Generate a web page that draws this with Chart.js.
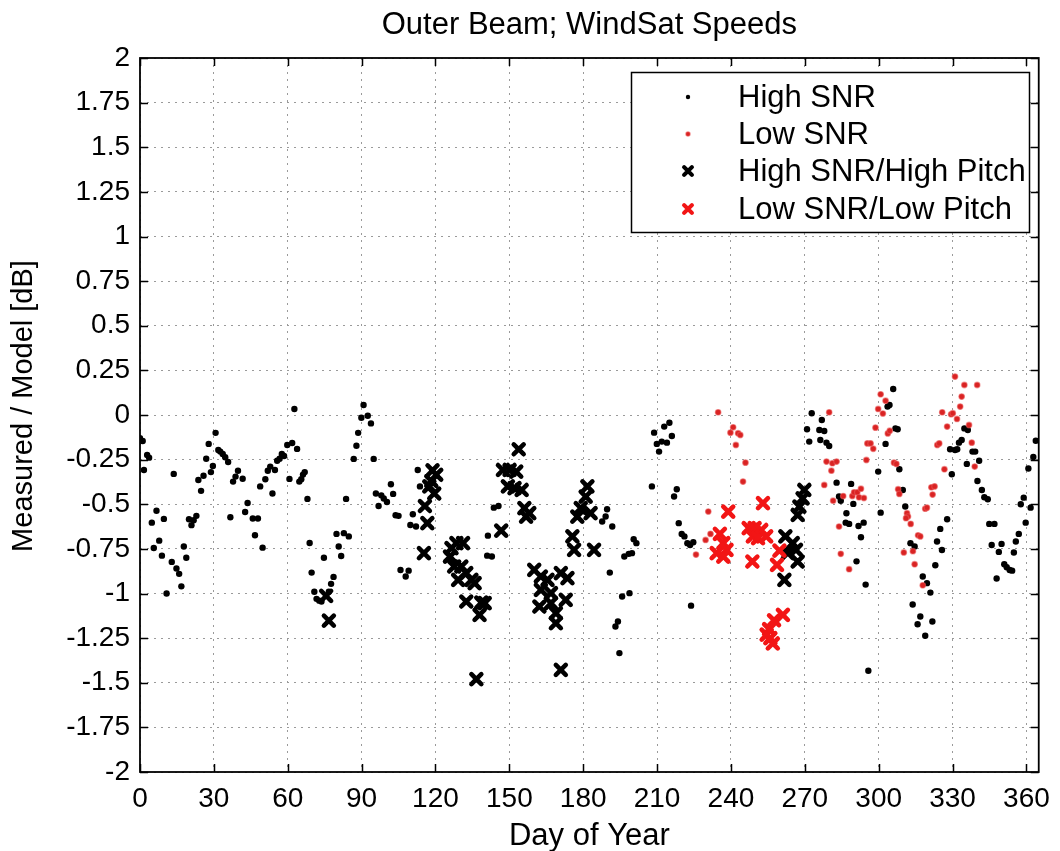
<!DOCTYPE html>
<html>
<head>
<meta charset="utf-8">
<title>Outer Beam; WindSat Speeds</title>
<script src="https://cdn.jsdelivr.net/npm/chart.js@4.4.1/dist/chart.umd.min.js"></script>
<style>
  html, body { margin: 0; padding: 0; background: #ffffff; }
  canvas { display: block; }
</style>
</head>
<body>
<canvas id="chart" width="1060" height="851"></canvas>
<script>
// Axis ticks
const xTicks = [0, 30, 60, 90, 120, 150, 180, 210, 240, 270, 300, 330, 360];
const yTicks = [2, 1.75, 1.5, 1.25, 1, 0.75, 0.5, 0.25, 0, -0.25, -0.5, -0.75, -1, -1.25, -1.5, -1.75, -2];
const yTickLabels = ['2', '1.75', '1.5', '1.25', '1', '0.75', '0.5', '0.25', '0', '-0.25', '-0.5', '-0.75', '-1', '-1.25', '-1.5', '-1.75', '-2'];

const seriesNames = ['High SNR', 'Low SNR', 'High SNR/High Pitch', 'Low SNR/Low Pitch'];

// High SNR
const highSnrDay = [
  0, 1.1, 2.9, 3.7, 1.6, 6.7, 4.8, 5.6, 7.8, 8.9, 9.7, 10.8, 12.9, 13.7, 14.8, 15.9, 16.8, 17.8, 18.8, 19.9,
  20.9, 21.8, 22.9, 23.7, 24.8, 25.8, 26.9, 27.9, 28.8, 29.6, 30.7, 31.8, 32.6, 33.6, 34.6, 35.8, 36.7, 37.8, 38.8, 39.8,
  41.7, 42.7, 43.7, 45.8, 46.7, 47.9, 48.8, 49.8, 50.9, 51.9, 52.9, 53.8, 54.8, 55.7, 56.7, 57.6, 58.5, 59.8, 60.7, 61.8,
  62.7, 63.8, 64.7, 65.5, 66.2, 66.9, 68.0, 68.9, 69.7, 70.8, 71.7, 72.8, 73.7, 74.7, 76.7, 77.6, 78.6, 79.8, 80.7, 81.7,
  82.8, 83.7, 84.8, 86.8, 87.9, 88.6, 89.9, 90.8, 92.5, 93.8, 94.9, 95.8, 96.9, 98.0, 99.0, 100.3, 101.9, 102.8, 103.8, 105,
  105.8, 107.9, 109.1, 109.8, 110.8, 112.1, 112.8, 113.7, 141.3, 141, 142.9, 143.7, 145.6,
  187.7, 189.1, 189.7, 191.8, 190.8, 195.8, 198.8, 193.1, 194.1, 194.7, 196.7, 198.5, 199.8, 200.5, 201.6,
  207.9, 208.8, 209.9, 210.8, 211.9, 212.9, 214, 215, 216, 216.9, 218, 218.8, 220, 221.1, 222.3, 223.4, 224.7, 223.8,
  272.8, 276.9, 270.9, 275.9, 277.9, 271.8, 276.3, 278.8, 279.9,
  282.9, 283.9, 284.6, 286.9, 286.6, 288, 288.8, 289.7, 291.8, 293.9, 292.8, 291, 294.7, 295.8,
  303.6, 304.4, 305.9, 302.8, 299.8, 300.8, 306.8, 307.7, 308.4, 309.8, 310.8, 312.9, 314.6, 317.9, 319.6, 321,
  313.8, 316.9, 315.8, 318.9, 321.8, 323, 323.7, 325, 325.7, 327.8, 329, 329.7, 331, 331.9, 332.6, 333.7, 334.8, 336.2,
  335.8, 338.1, 339.2, 340.8, 340.1, 341.9, 342.9, 344.3, 344.9, 347, 345.9, 349.9, 348.8, 347.9, 351, 352, 353.2, 354.2,
  354.9, 355.7, 356.9, 357.7, 358.9, 359.7, 361.7, 360.8, 362.8, 363.8
];
const highSnrVal = [
  -0.13, -0.146, -0.224, -0.239, -0.308, -0.536, -0.603, -0.745, -0.704, -0.788, -0.582, -1.0, -0.823, -0.33, -0.86, -0.89, -0.96, -0.737, -0.8, -0.584,
  -0.617, -0.59, -0.565, -0.364, -0.425, -0.34, -0.245, -0.162, -0.32, -0.286, -0.1, -0.196, -0.205, -0.218, -0.237, -0.263, -0.573, -0.373, -0.345, -0.312,
  -0.357, -0.543, -0.493, -0.58, -0.674, -0.58, -0.4, -0.743, -0.36, -0.312, -0.289, -0.44, -0.308, -0.256, -0.245, -0.218, -0.23, -0.168, -0.358, -0.157,
  0.034, -0.19, -0.373, -0.36, -0.334, -0.32, -0.47, -0.717, -0.883, -0.99, -1.03, -1.04, -1.045, -0.8, -0.99, -0.946, -0.907, -0.666, -0.737, -0.79,
  -0.662, -0.47, -0.68, -0.246, -0.172, -0.1, -0.015, 0.056, -0.004, -0.047, -0.246, -0.44, -0.51, -0.45, -0.468, -0.487, -0.388, -0.442, -0.562, -0.565,
  -0.868, -0.905, -0.872, -0.616, -0.556, -0.625, -0.308, -0.4, -0.676, -0.788, -0.793, -0.519, -0.51,
  -0.597, -0.569, -0.528, -0.625, -0.883, -1.017, -0.998, -1.185, -1.157, -1.334, -0.793, -0.778, -0.774, -0.696, -0.718,
  -0.4, -0.099, -0.162, -0.205, -0.149, -0.065, -0.155, -0.043, -0.118, -0.457, -0.416, -0.606, -0.666, -0.68, -0.718, -0.728, -0.713, -1.068,
  0.01, -0.028, -0.08, -0.084, -0.09, -0.149, -0.14, -0.155, -0.174,
  -0.379, -0.457, -0.48, -0.55, -0.603, -0.61, -0.386, -0.498, -0.622, -0.603, -0.685, -0.82, -0.95, -1.433,
  0.047, 0.056, 0.146, -0.162, -0.317, -0.547, -0.075, -0.08, -0.304, -0.42, -0.513, -0.718, -0.737, -0.905, -0.942, -0.995,
  -1.062, -1.129, -1.172, -1.237, -1.157, -0.842, -0.709, -0.638, -0.756, -0.584, -0.192, -0.332, -0.196, -0.192, -0.155, -0.14, -0.075, -0.084,
  -0.274, -0.205, -0.205, -0.256, -0.37, -0.42, -0.461, -0.472, -0.61, -0.61, -0.728, -0.722, -0.767, -0.916, -0.836, -0.853, -0.868, -0.872,
  -0.77, -0.709, -0.666, -0.5, -0.463, -0.603, -0.519, -0.3, -0.235, -0.144
];

// Low SNR
const lowSnrDay = [
  225.8, 229.7, 230.8, 231.7, 234.8, 239.8, 240.9, 242.9, 242, 243.8, 245.9, 244.9,
  279.9, 278.8, 281.2, 280.8, 277.9, 281.5, 282.9, 283.9, 284.6, 285.6, 288, 289.3, 290, 291.3, 292.8, 292, 294,
  295, 295.4, 296.7, 297.8, 298.7, 299.8, 300.8, 301.7, 302.8, 303.7, 304.5, 306.2, 307.2, 307.9, 308.4,
  311.5, 311.9, 311.1, 313, 313.9, 310.2, 314.6, 316, 316.9, 317.9, 318.9, 319.6, 321.4, 322.7, 321.9,
  323.8, 324.6, 325.8, 326.7, 327.8, 329.4, 330.1, 331, 331.8, 333.1, 333.7, 334.8, 340, 336.7, 337.8, 339
];
const lowSnrVal = [
  -0.782, -0.7, -0.541, -0.666, 0.015, -0.099, -0.069, -0.102, -0.168, -0.112, -0.267, -0.373,
  0.015, -0.261, -0.27, -0.312, -0.392, -0.48, -0.261, -0.625, -0.778, -0.454, -0.864, -0.454, -0.433, -0.433, -0.413, -0.461, -0.465,
  -0.252, -0.159, -0.159, -0.189, -0.071, 0.034, 0.116, 0.008, 0.08, -0.103, -0.088, -0.267, -0.274, -0.416, -0.442,
  -0.55, -0.569, -0.578, -0.61, -0.763, -0.77, -0.836, -0.674, -0.68, -0.954, -0.525, -0.519, -0.405, -0.4, -0.446,
  -0.168, -0.159, 0.015, -0.304, -0.065, 0.004, 0.01, 0.215, -0.022, 0.047, 0.103, 0.168, 0.168, -0.056, -0.155, -0.289
];

// High SNR / High Pitch
const highPitchDay = [
  75.6, 76.7, 115.3, 115.7, 116.7, 117.5, 118.8, 120.3, 119.5, 118.3,
  126.5, 128.5, 131.2, 125.9, 127.6, 130.5, 132.5, 129.2, 134.6, 135.9, 132.5, 138.6, 140, 137.9, 136.6,
  146.7, 153.8, 147.4, 150.1, 152.8, 149.4, 152.1, 155, 156.1, 158.1, 156.8,
  160.1, 162.8, 165.5, 170.9, 173.6, 162.8, 162.2, 166.9, 166.9, 172.9, 168.9, 168.9, 170.9,
  181.7, 181, 179, 177.6, 183, 175.6, 176.3, 184.4,
  262.1, 265.1, 266.4, 267.1, 263.1, 261.7, 269.8, 269.1, 267.8, 267.1
];
const highPitchVal = [
  -1.013, -1.152, -0.774, -0.51, -0.606, -0.4, -0.31, -0.335, -0.44, -0.37,
  -0.746, -0.718, -0.718, -0.793, -0.849, -0.849, -0.886, -0.924, -0.924, -0.942, -1.045, -1.051, -1.054, -1.12, -1.48,
  -0.648, -0.192, -0.308, -0.308, -0.317, -0.4, -0.41, -0.42, -0.522, -0.55, -0.569,
  -0.868, -0.905, -0.924, -0.886, -0.914, -0.98, -1.073, -0.998, -1.054, -1.036, -1.11, -1.166, -1.428,
  -0.4, -0.457, -0.522, -0.569, -0.55, -0.68, -0.756, -0.756,
  -0.68, -0.718, -0.756, -0.821, -0.774, -0.924, -0.42, -0.467, -0.513, -0.56
];

// Low SNR / Low Pitch
const lowPitchDay = [
  238.9, 235.5, 234.2, 236.9, 238.2, 236.9, 247.2, 249.6, 252.3, 248.9, 251, 254.3, 253, 248.7,
  259.7, 258.7, 261.1, 257.5, 255.5, 254.5, 256, 257
];
const lowPitchVal = [
  -0.541, -0.666, -0.774, -0.718, -0.756, -0.793, -0.634, -0.634, -0.644, -0.68, -0.69, -0.68, -0.494, -0.821,
  -0.76, -0.84, -1.12, -1.15, -1.2, -1.23, -1.25, -1.28
];

const toPoints = (xs, ys) => xs.map((x, i) => ({ x: x, y: ys[i] }));

const FONT = '"Liberation Sans", Arial, Helvetica, sans-serif';
const BLACK = '#000000';
const RED_DOT = '#d92323';
const RED_X = '#f21515';

const styles = [
  { pointStyle: 'circle', radius: 3.2, bg: BLACK, border: BLACK, bw: 0 },
  { pointStyle: 'circle', radius: 2.8, bg: RED_DOT, border: 'rgba(235,90,90,0.55)', bw: 1.2 },
  { pointStyle: 'crossRot', radius: 7, bg: BLACK, border: BLACK, bw: 4.6 },
  { pointStyle: 'crossRot', radius: 7, bg: RED_X, border: RED_X, bw: 4.6 }
];

const seriesData = [
  toPoints(highSnrDay, highSnrVal),
  toPoints(lowSnrDay, lowSnrVal),
  toPoints(highPitchDay, highPitchVal),
  toPoints(lowPitchDay, lowPitchVal)
];

const drawOrder = [3, 2, 1, 0];

const datasets = seriesNames.map((name, i) => ({
  label: name,
  data: seriesData[i],
  order: drawOrder[i],
  showLine: false,
  pointStyle: styles[i].pointStyle,
  pointRadius: styles[i].radius,
  pointHoverRadius: styles[i].radius,
  pointBackgroundColor: styles[i].bg,
  pointBorderColor: styles[i].border,
  pointBorderWidth: styles[i].bw,
  backgroundColor: styles[i].bg,
  borderColor: styles[i].border
}));

// Rounded stroke ends for the x markers
const roundCaps = {
  id: 'roundCaps',
  beforeDatasetsDraw(chart) { chart.ctx.save(); chart.ctx.lineCap = 'round'; },
  afterDatasetsDraw(chart) { chart.ctx.restore(); }
};

// Frame, inward tick marks, title, axis titles and legend box
const decorations = {
  id: 'decorations',
  afterDraw(chart) {
    const ctx = chart.ctx;
    const a = chart.chartArea;
    const xs = chart.scales.x;
    const ys = chart.scales.y;
    ctx.save();

    // inward tick marks on all four sides
    ctx.strokeStyle = BLACK;
    ctx.lineWidth = 1.5;
    const tl = 8;
    ctx.beginPath();
    xTicks.forEach(v => {
      const px = Math.round(xs.getPixelForValue(v)) + 0.5;
      ctx.moveTo(px, a.bottom); ctx.lineTo(px, a.bottom - tl);
      ctx.moveTo(px, a.top); ctx.lineTo(px, a.top + tl);
    });
    yTicks.forEach(v => {
      const py = Math.round(ys.getPixelForValue(v)) + 0.5;
      ctx.moveTo(a.left, py); ctx.lineTo(a.left + tl, py);
      ctx.moveTo(a.right, py); ctx.lineTo(a.right - tl, py);
    });
    ctx.stroke();

    // frame
    ctx.lineWidth = 1.8;
    ctx.strokeRect(a.left, a.top, a.right - a.left, a.bottom - a.top);

    // title
    ctx.fillStyle = BLACK;
    ctx.textAlign = 'center';
    ctx.textBaseline = 'middle';
    ctx.font = '31px ' + FONT;
    ctx.fillText('Outer Beam; WindSat Speeds', (a.left + a.right) / 2, 25);

    // axis titles
    ctx.font = '31px ' + FONT;
    ctx.fillText('Day of Year', (a.left + a.right) / 2, 836);
    ctx.save();
    ctx.font = '29px ' + FONT;
    ctx.translate(24, 406);
    ctx.rotate(-Math.PI / 2);
    ctx.fillText('Measured / Model [dB]', 0, 0);
    ctx.restore();

    // legend
    const lx = 631, ly = 72, lw = 398, lh = 160;
    ctx.fillStyle = '#ffffff';
    ctx.fillRect(lx, ly, lw, lh);
    ctx.strokeStyle = BLACK;
    ctx.lineWidth = 1.5;
    ctx.strokeRect(lx + 0.5, ly + 0.5, lw, lh);
    const rowY = [97, 134, 171, 209];
    const legendRadius = [2.2, 2.2, 5.5, 5.5];
    ctx.font = '31px ' + FONT;
    ctx.textAlign = 'left';
    ctx.textBaseline = 'middle';
    seriesNames.forEach((name, i) => {
      const s = styles[i];
      ctx.save();
      ctx.lineCap = 'round';
      ctx.fillStyle = s.bg;
      ctx.strokeStyle = s.border;
      ctx.lineWidth = s.bw > 2 ? 4.2 : s.bw;
      Chart.helpers.drawPoint(ctx, {
        pointStyle: s.pointStyle,
        radius: legendRadius[i],
        rotation: 0,
        borderWidth: s.bw > 2 ? 4.2 : s.bw
      }, 688, rowY[i]);
      ctx.restore();
      ctx.fillStyle = BLACK;
      ctx.fillText(name, 738, rowY[i] + 1);
    });

    ctx.restore();
  }
};

new Chart(document.getElementById('chart'), {
  type: 'scatter',
  data: { datasets: datasets },
  options: {
    responsive: false,
    devicePixelRatio: 1,
    animation: false,
    events: [],
    layout: { padding: { top: 58, right: 16, bottom: 0, left: 0 } },
    plugins: {
      legend: { display: false },
      title: { display: false },
      tooltip: { enabled: false }
    },
    scales: {
      x: {
        type: 'linear',
        min: 0,
        max: 365,
        afterBuildTicks(scale) { scale.ticks = xTicks.map(v => ({ value: v })); },
        afterFit(scale) { scale.height = 79; },
        ticks: {
          autoSkip: false,
          maxRotation: 0,
          padding: 10,
          color: BLACK,
          font: { family: FONT, size: 28 },
          callback: (v) => String(v)
        },
        grid: { color: '#9a9a9a', lineWidth: 1, drawTicks: false },
        border: { display: false, dash: [2, 5] }
      },
      y: {
        type: 'linear',
        min: -2,
        max: 2,
        afterBuildTicks(scale) { scale.ticks = yTicks.map(v => ({ value: v })); },
        afterFit(scale) { scale.width = 140; },
        ticks: {
          autoSkip: false,
          padding: 10,
          color: BLACK,
          font: { family: FONT, size: 28 },
          callback: (v) => yTickLabels[yTicks.indexOf(v)]
        },
        grid: { color: '#9a9a9a', lineWidth: 1, drawTicks: false },
        border: { display: false, dash: [2, 5] }
      }
    }
  },
  plugins: [roundCaps, decorations]
});
</script>
</body>
</html>
